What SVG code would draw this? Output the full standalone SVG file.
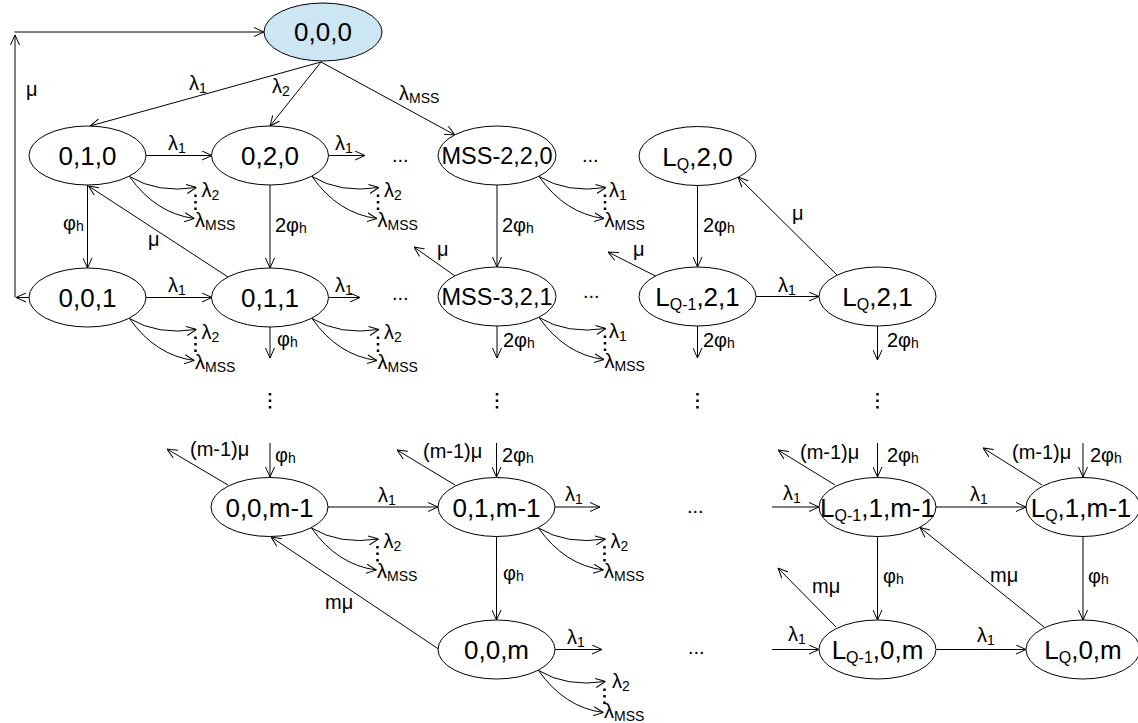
<svg xmlns="http://www.w3.org/2000/svg" xmlns:xlink="http://www.w3.org/1999/xlink" width="1138" height="723" viewBox="0 0 1138 723">
<style>
.nd{fill:#fff;stroke:#000;stroke-width:1}
.top{fill:#cce6f4}
.nt{font-family:"Liberation Sans",Arial,sans-serif;font-size:26px;text-anchor:middle;fill:#000}
.nt2{font-size:23.5px}
.ns{font-size:16px}
.c{fill:none;stroke:#000;stroke-width:1;marker-end:url(#a)}
.l{font-family:"Liberation Sans",Arial,sans-serif;font-size:20px;fill:#000}
.s{font-size:14px}
.d{fill:none;stroke:#000;stroke-width:2.5;stroke-dasharray:2.5 4}
</style>
<defs>
<marker id="a" viewBox="0 0 10 10" refX="10" refY="5" markerWidth="10" markerHeight="10" markerUnits="userSpaceOnUse" orient="auto">
<path d="M0,0.5 L10,5 L0,9.5" fill="none" stroke="#000" stroke-width="1"/>
</marker>
<g id="fan">
<path class="c" d="M42,21 Q70,38 109,32"/>
<path class="c" d="M42,21 Q68,58 107,63"/>
<line class="d" x1="108" y1="39" x2="108" y2="56"/>
</g>
</defs>
<rect width="1138" height="723" fill="#fff"/>

<g id="connectors">
<line class="c" x1="29" y1="297.5" x2="16" y2="297.5"/>
<line class="c" x1="15" y1="297.5" x2="15" y2="35"/>
<line class="c" x1="14.5" y1="32" x2="264" y2="32"/>
<line class="c" x1="321" y1="62" x2="90" y2="126"/>
<line class="c" x1="321" y1="62" x2="270" y2="126"/>
<line class="c" x1="321" y1="62" x2="455" y2="135"/>
<line class="c" x1="146" y1="155.5" x2="212" y2="155.5"/>
<line class="c" x1="328.5" y1="155.5" x2="365" y2="155.5"/>
<line class="c" x1="87.5" y1="185" x2="87.5" y2="268"/>
<line class="c" x1="270" y1="185" x2="270" y2="268"/>
<line class="c" x1="497" y1="185" x2="497" y2="267"/>
<line class="c" x1="697.5" y1="185.5" x2="697.5" y2="267"/>
<line class="c" x1="228" y1="277" x2="88.5" y2="186"/>
<line class="c" x1="837" y1="275" x2="738" y2="177"/>
<line class="c" x1="455" y1="276" x2="414" y2="247"/>
<line class="c" x1="655.5" y1="276" x2="608" y2="252"/>
<line class="c" x1="756" y1="296.5" x2="819" y2="296.5"/>
<line class="c" x1="146" y1="297.5" x2="212" y2="297.5"/>
<line class="c" x1="328.5" y1="297.5" x2="360" y2="297.5"/>
<line class="c" x1="270" y1="327" x2="270" y2="358"/>
<line class="c" x1="497" y1="326" x2="497" y2="358"/>
<line class="c" x1="697.5" y1="326" x2="697.5" y2="358"/>
<line class="c" x1="877.5" y1="326" x2="877.5" y2="360"/>
<line class="d" x1="270" y1="393" x2="270" y2="410"/>
<line class="d" x1="497" y1="393" x2="497" y2="410"/>
<line class="d" x1="697.5" y1="393" x2="697.5" y2="410"/>
<line class="d" x1="877.5" y1="393" x2="877.5" y2="410"/>
<line class="c" x1="228" y1="485" x2="167" y2="449"/>
<line class="c" x1="270" y1="443" x2="270" y2="477"/>
<line class="c" x1="328" y1="507" x2="438" y2="507"/>
<line class="c" x1="438.5" y1="649" x2="271" y2="537"/>
<line class="c" x1="455" y1="485" x2="397" y2="450"/>
<line class="c" x1="496.5" y1="443" x2="496.5" y2="477"/>
<line class="c" x1="555" y1="507" x2="600" y2="507"/>
<line class="c" x1="496.5" y1="536.5" x2="496.5" y2="620"/>
<line class="c" x1="772" y1="507" x2="819" y2="507"/>
<line class="c" x1="835" y1="485" x2="778" y2="450"/>
<line class="c" x1="877.5" y1="443" x2="877.5" y2="477"/>
<line class="c" x1="936" y1="507" x2="1026" y2="507"/>
<line class="c" x1="877.5" y1="536.5" x2="877.5" y2="620"/>
<line class="c" x1="1044" y1="627" x2="920" y2="527.5"/>
<line class="c" x1="1042" y1="485" x2="983" y2="448"/>
<line class="c" x1="1083" y1="443" x2="1083" y2="477"/>
<line class="c" x1="1083" y1="536.5" x2="1083" y2="620"/>
<line class="c" x1="555" y1="649.5" x2="602" y2="649.5"/>
<line class="c" x1="772" y1="649.5" x2="819" y2="649.5"/>
<line class="c" x1="836" y1="627" x2="778" y2="568"/>
<line class="c" x1="936.5" y1="649.5" x2="1026" y2="649.5"/>
<use xlink:href="#fan" x="87.5" y="155.5"/>
<use xlink:href="#fan" x="270" y="155.5"/>
<use xlink:href="#fan" x="497" y="155.5"/>
<use xlink:href="#fan" x="87.5" y="297.5"/>
<use xlink:href="#fan" x="270" y="297.5"/>
<use xlink:href="#fan" x="497" y="296.5"/>
<use xlink:href="#fan" x="269.5" y="507"/>
<use xlink:href="#fan" x="496.5" y="507"/>
<use xlink:href="#fan" x="496.5" y="649.5"/>
</g>

<g id="edge-labels" class="l">
<text x="26" y="96">μ</text>
<text x="189" y="90">λ<tspan class="s" dy="3">1</tspan></text>
<text x="272" y="93">λ<tspan class="s" dy="3">2</tspan></text>
<text x="399" y="100">λ<tspan class="s" dy="3">MSS</tspan></text>
<text x="168" y="150">λ<tspan class="s" dy="3">1</tspan></text>
<text x="335" y="150">λ<tspan class="s" dy="3">1</tspan></text>
<text x="392" y="162">...</text>
<text x="582" y="162">...</text>
<text x="63" y="230">φ<tspan class="s" dy="1">h</tspan></text>
<text x="275" y="232">2φ<tspan class="s" dy="1">h</tspan></text>
<text x="502" y="232">2φ<tspan class="s" dy="1">h</tspan></text>
<text x="703" y="232">2φ<tspan class="s" dy="1">h</tspan></text>
<text x="148" y="246">μ</text>
<text x="437" y="256">μ</text>
<text x="633" y="256">μ</text>
<text x="792" y="220">μ</text>
<text x="778" y="292">λ<tspan class="s" dy="3">1</tspan></text>
<text x="168" y="292">λ<tspan class="s" dy="3">1</tspan></text>
<text x="335" y="292">λ<tspan class="s" dy="3">1</tspan></text>
<text x="392" y="300">...</text>
<text x="583" y="298">...</text>
<text x="277" y="346">φ<tspan class="s" dy="1">h</tspan></text>
<text x="503" y="347">2φ<tspan class="s" dy="1">h</tspan></text>
<text x="703" y="347">2φ<tspan class="s" dy="1">h</tspan></text>
<text x="887" y="347">2φ<tspan class="s" dy="1">h</tspan></text>
<text x="201.5" y="196.5">λ<tspan class="s" dy="3">2</tspan></text>
<text x="195" y="226.5">λ<tspan class="s" dy="3">MSS</tspan></text>
<text x="384" y="196.5">λ<tspan class="s" dy="3">2</tspan></text>
<text x="377.5" y="226.5">λ<tspan class="s" dy="3">MSS</tspan></text>
<text x="609" y="196.5">λ<tspan class="s" dy="3">1</tspan></text>
<text x="604.5" y="226.5">λ<tspan class="s" dy="3">MSS</tspan></text>
<text x="201.5" y="338.5">λ<tspan class="s" dy="3">2</tspan></text>
<text x="195" y="368.5">λ<tspan class="s" dy="3">MSS</tspan></text>
<text x="384" y="338.5">λ<tspan class="s" dy="3">2</tspan></text>
<text x="377.5" y="368.5">λ<tspan class="s" dy="3">MSS</tspan></text>
<text x="609" y="337.5">λ<tspan class="s" dy="3">1</tspan></text>
<text x="604.5" y="367.5">λ<tspan class="s" dy="3">MSS</tspan></text>
<text x="190" y="456">(m-1)μ</text>
<text x="275" y="462">φ<tspan class="s" dy="1">h</tspan></text>
<text x="378" y="502">λ<tspan class="s" dy="3">1</tspan></text>
<text x="423" y="458">(m-1)μ</text>
<text x="502" y="462">2φ<tspan class="s" dy="1">h</tspan></text>
<text x="565" y="501">λ<tspan class="s" dy="3">1</tspan></text>
<text x="383.5" y="548">λ<tspan class="s" dy="3">2</tspan></text>
<text x="377" y="578">λ<tspan class="s" dy="3">MSS</tspan></text>
<text x="610.5" y="548">λ<tspan class="s" dy="3">2</tspan></text>
<text x="604" y="578">λ<tspan class="s" dy="3">MSS</tspan></text>
<text x="503" y="580">φ<tspan class="s" dy="1">h</tspan></text>
<text x="325" y="609">mμ</text>
<text x="687" y="513">...</text>
<text x="783" y="500">λ<tspan class="s" dy="3">1</tspan></text>
<text x="800" y="459">(m-1)μ</text>
<text x="887" y="462">2φ<tspan class="s" dy="1">h</tspan></text>
<text x="970" y="501">λ<tspan class="s" dy="3">1</tspan></text>
<text x="1012" y="459">(m-1)μ</text>
<text x="1090" y="462">2φ<tspan class="s" dy="1">h</tspan></text>
<text x="883" y="583">φ<tspan class="s" dy="1">h</tspan></text>
<text x="990" y="582">mμ</text>
<text x="1088" y="583">φ<tspan class="s" dy="1">h</tspan></text>
<text x="567" y="644">λ<tspan class="s" dy="3">1</tspan></text>
<text x="612" y="688">λ<tspan class="s" dy="3">2</tspan></text>
<text x="604" y="718">λ<tspan class="s" dy="3">MSS</tspan></text>
<text x="688" y="654">...</text>
<text x="788" y="641">λ<tspan class="s" dy="3">1</tspan></text>
<text x="812" y="593">mμ</text>
<text x="977" y="642">λ<tspan class="s" dy="3">1</tspan></text>
</g>

<g id="n000"><ellipse class="nd top" cx="323" cy="32" rx="59" ry="29"/><text class="nt" x="323" y="41">0,0,0</text></g>
<g id="n010"><ellipse class="nd" cx="87.5" cy="155.5" rx="58.5" ry="29.5"/><text class="nt" x="87.5" y="165">0,1,0</text></g>
<g id="n020"><ellipse class="nd" cx="270" cy="155.5" rx="58.5" ry="29.5"/><text class="nt" x="270" y="165">0,2,0</text></g>
<g id="nMSS220"><ellipse class="nd" cx="497" cy="155.5" rx="59" ry="29.5"/><text class="nt nt2" x="497" y="164">MSS-2,2,0</text></g>
<g id="nLQ20"><ellipse class="nd" cx="697.5" cy="156" rx="58.5" ry="29.5"/><text class="nt" x="697.5" y="165.5">L<tspan class="ns" dy="4">Q</tspan><tspan dy="-4">,2,0</tspan></text></g>
<g id="n001"><ellipse class="nd" cx="87.5" cy="297.5" rx="58.5" ry="29.5"/><text class="nt" x="87.5" y="307">0,0,1</text></g>
<g id="n011"><ellipse class="nd" cx="270" cy="297.5" rx="58.5" ry="29.5"/><text class="nt" x="270" y="307">0,1,1</text></g>
<g id="nMSS321"><ellipse class="nd" cx="497" cy="296.5" rx="59" ry="29.5"/><text class="nt nt2" x="497" y="305">MSS-3,2,1</text></g>
<g id="nLQ121"><ellipse class="nd" cx="697.5" cy="296.5" rx="58.5" ry="29.5"/><text class="nt" x="697.5" y="306">L<tspan class="ns" dy="4">Q-1</tspan><tspan dy="-4">,2,1</tspan></text></g>
<g id="nLQ21"><ellipse class="nd" cx="877.5" cy="296.5" rx="58.5" ry="29.5"/><text class="nt" x="877.5" y="306">L<tspan class="ns" dy="4">Q</tspan><tspan dy="-4">,2,1</tspan></text></g>
<g id="n00m1"><ellipse class="nd" cx="269.5" cy="507" rx="58.5" ry="29.5"/><text class="nt" x="269.5" y="516.5">0,0,m-1</text></g>
<g id="n01m1"><ellipse class="nd" cx="496.5" cy="507" rx="58.5" ry="29.5"/><text class="nt" x="496.5" y="516.5">0,1,m-1</text></g>
<g id="nLQ11m1"><ellipse class="nd" cx="877.5" cy="507" rx="58.5" ry="29.5"/><text class="nt" x="877.5" y="516.5">L<tspan class="ns" dy="4">Q-1</tspan><tspan dy="-4">,1,m-1</tspan></text></g>
<g id="nLQ1m1"><ellipse class="nd" cx="1083" cy="507" rx="57" ry="29.5"/><text class="nt" x="1081" y="516.5">L<tspan class="ns" dy="4">Q</tspan><tspan dy="-4">,1,m-1</tspan></text></g>
<g id="n00m"><ellipse class="nd" cx="496.5" cy="649.5" rx="58.5" ry="29.5"/><text class="nt" x="496.5" y="659">0,0,m</text></g>
<g id="nLQ10m"><ellipse class="nd" cx="877.5" cy="649.5" rx="58.5" ry="29.5"/><text class="nt" x="877.5" y="659">L<tspan class="ns" dy="4">Q-1</tspan><tspan dy="-4">,0,m</tspan></text></g>
<g id="nLQ0m"><ellipse class="nd" cx="1083" cy="649.5" rx="57" ry="29.5"/><text class="nt" x="1083" y="659">L<tspan class="ns" dy="4">Q</tspan><tspan dy="-4">,0,m</tspan></text></g>
</svg>
